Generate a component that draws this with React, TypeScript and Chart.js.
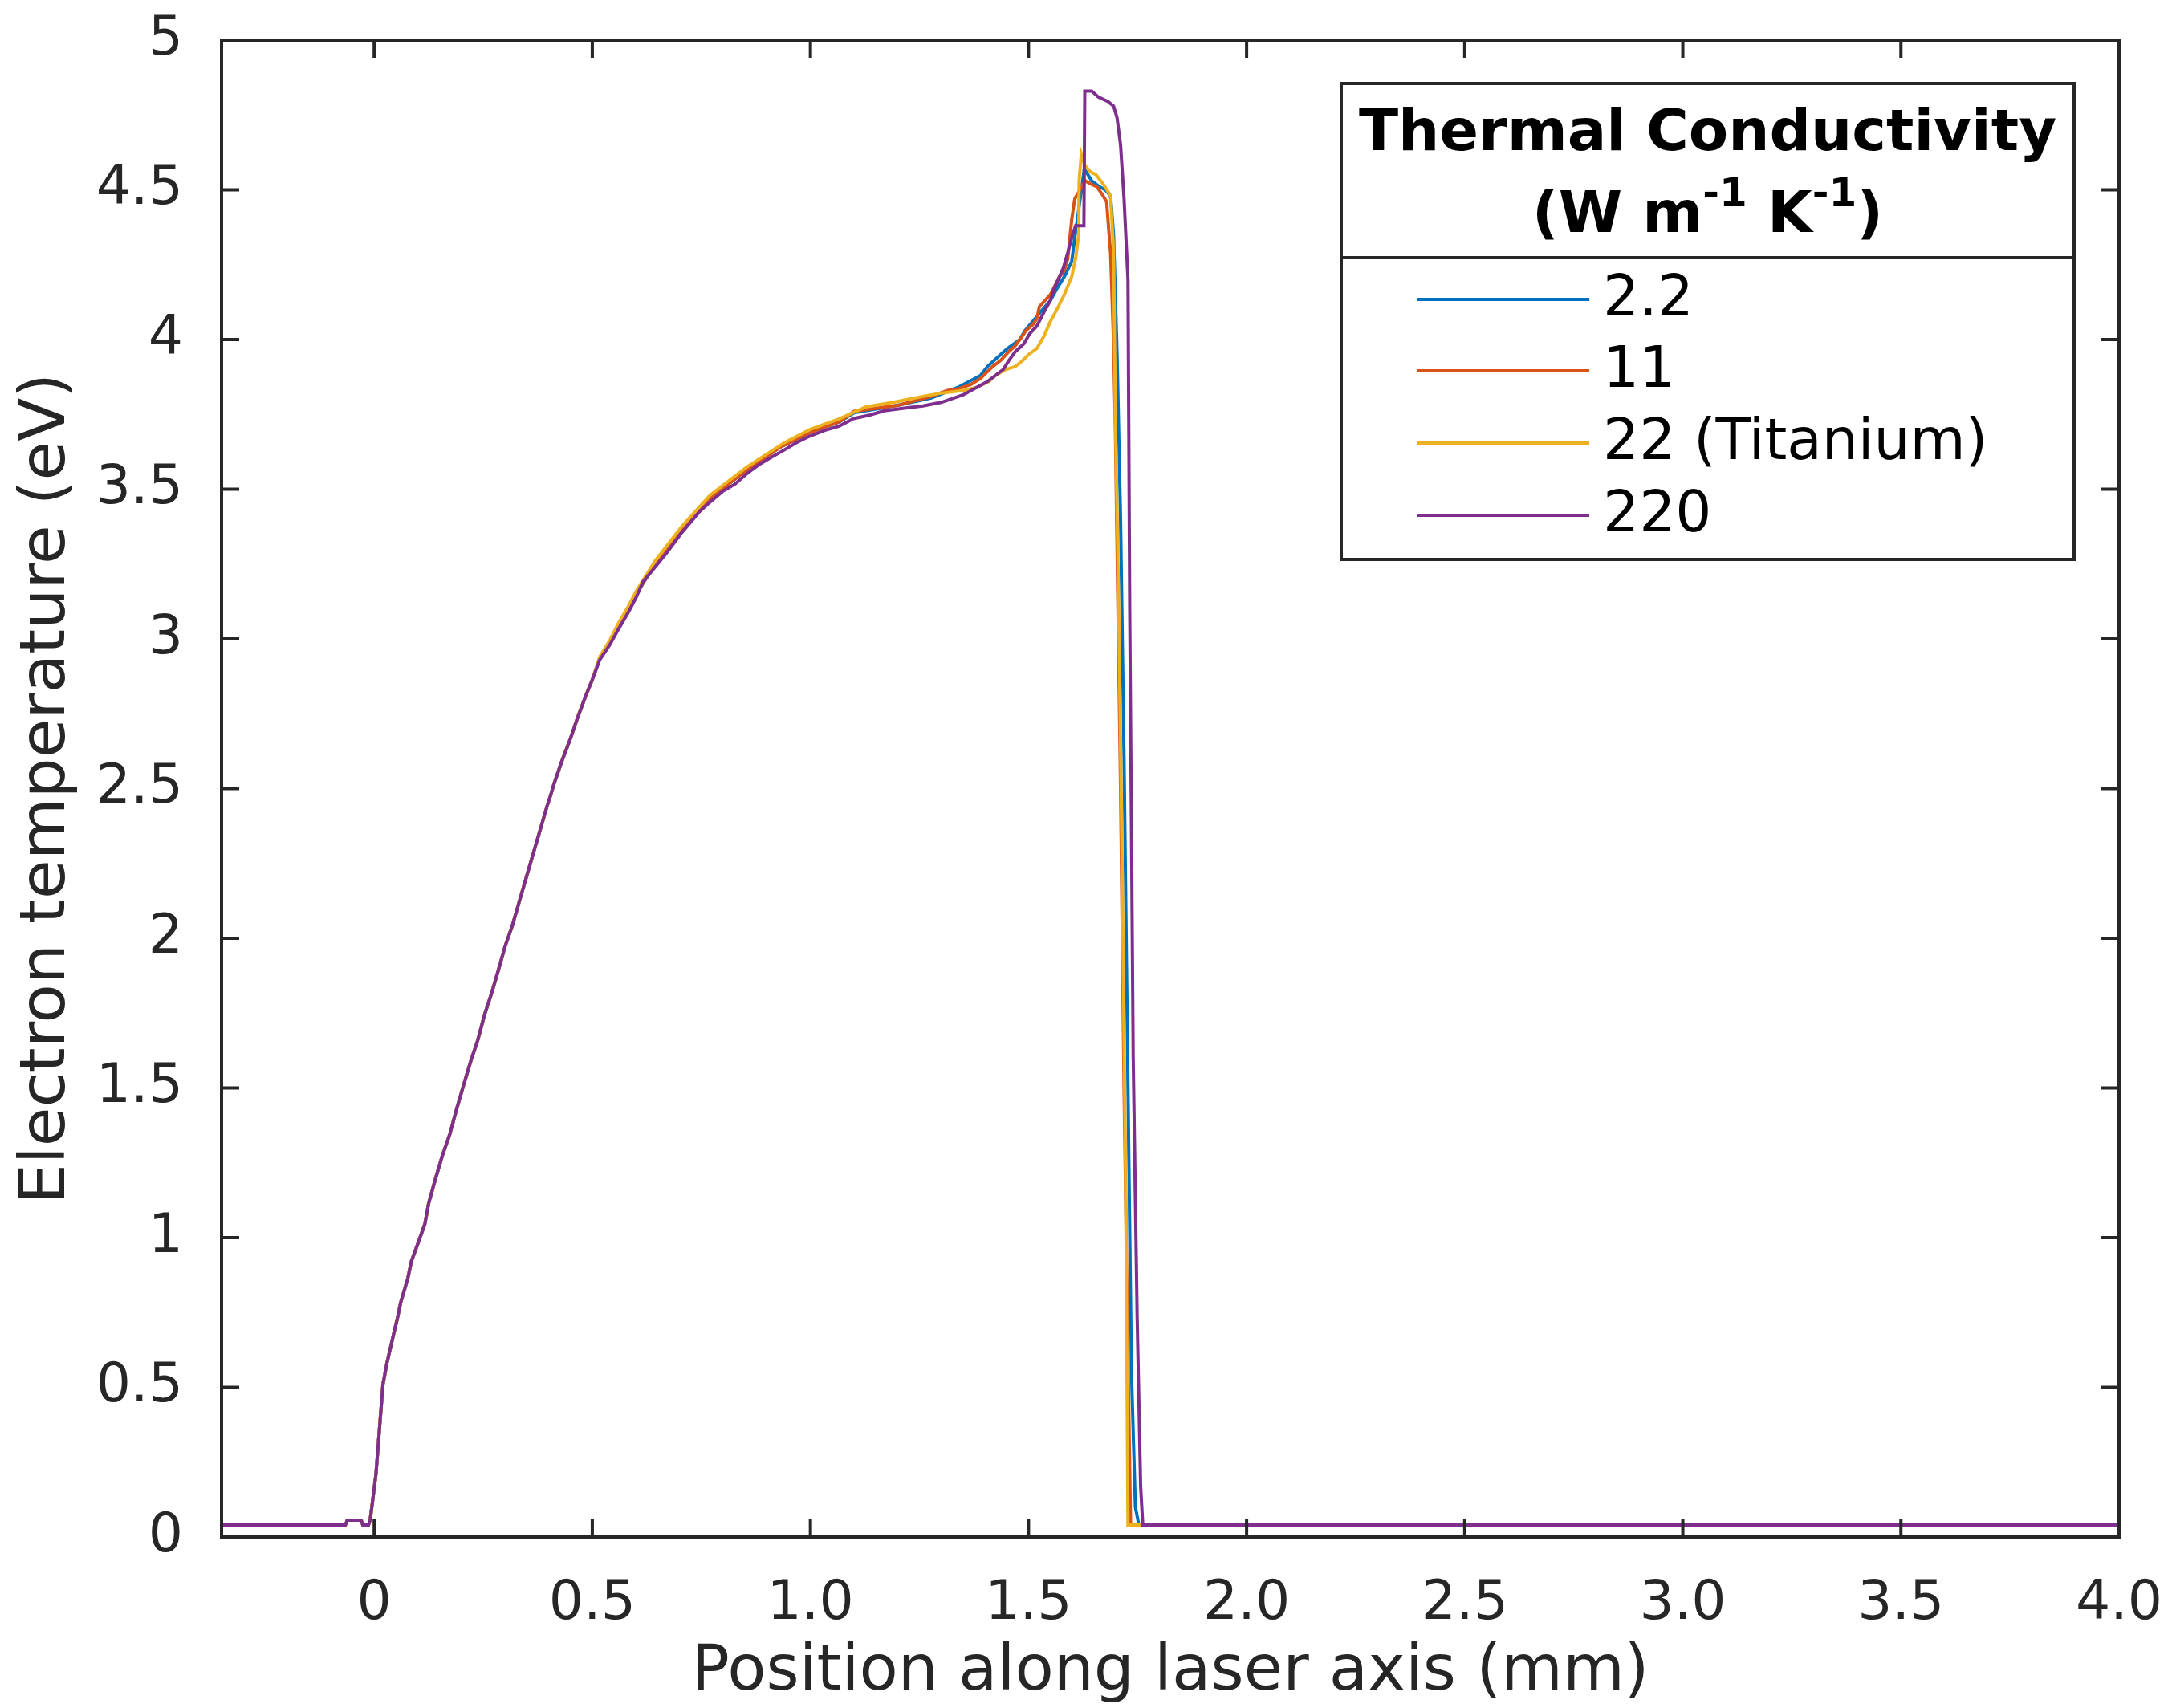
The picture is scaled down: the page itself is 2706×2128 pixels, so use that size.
import { useEffect, useRef } from 'react'
import { Chart, registerables, type Plugin, type ChartConfiguration } from 'chart.js'

Chart.register(...registerables)

const FONT = '"DejaVu Sans", sans-serif'
const INK = '#262626'

/* ------------------------------------------------------------------ */
/*  Data                                        */
/* ------------------------------------------------------------------ */

const xTickValues = [0, 0.5, 1, 1.5, 2, 2.5, 3, 3.5, 4]
const xTickLabels = ['0', '0.5', '1.0', '1.5', '2.0', '2.5', '3.0', '3.5', '4.0']
const yTickValues = [0, 0.5, 1, 1.5, 2, 2.5, 3, 3.5, 4, 4.5, 5]
const yTickLabels = ['0', '0.5', '1', '1.5', '2', '2.5', '3', '3.5', '4', '4.5', '5']

const legendTitle = 'Thermal Conductivity'
const seriesLabels = ['2.2', '11', '22 (Titanium)', '220']
const seriesColors = ['#0072BD', '#D95319', '#EDB120', '#7E2F8E']

// all four runs lie on top of each other up to ~0.5 mm
const sharedRise: [number, number][] = [
  [-0.35, 0.04], [-0.066, 0.04], [-0.062, 0.056], [-0.03, 0.056], [-0.026, 0.04],
  [-0.013, 0.04], [-0.009, 0.06], [-0.002, 0.14], [0.004, 0.21], [0.012, 0.36],
  [0.02, 0.51], [0.029, 0.58], [0.037, 0.63], [0.044, 0.675], [0.053, 0.73],
  [0.061, 0.785], [0.077, 0.864], [0.085, 0.92], [0.1, 0.98], [0.116, 1.045],
  [0.125, 1.116], [0.14, 1.194], [0.156, 1.273], [0.173, 1.344], [0.189, 1.43],
  [0.205, 1.51], [0.221, 1.588], [0.237, 1.658], [0.253, 1.745], [0.269, 1.816],
  [0.285, 1.895], [0.3, 1.973], [0.317, 2.044], [0.332, 2.12], [0.348, 2.2],
  [0.357, 2.245], [0.364, 2.28], [0.372, 2.32], [0.38, 2.36], [0.389, 2.405],
  [0.397, 2.445], [0.405, 2.48], [0.412, 2.515], [0.421, 2.553], [0.429, 2.587],
  [0.437, 2.618], [0.445, 2.648], [0.453, 2.68], [0.461, 2.715], [0.469, 2.748],
  [0.477, 2.779], [0.484, 2.806], [0.492, 2.835], [0.499, 2.86],
]

const tail2p2: [number, number][] = [
  [0.517, 2.935], [0.54, 2.985], [0.559, 3.04], [0.583, 3.1], [0.601, 3.15],
  [0.644, 3.25], [0.705, 3.365], [0.77, 3.47], [0.855, 3.565], [0.93, 3.64],
  [1.0, 3.69], [1.066, 3.725], [1.1, 3.755], [1.2, 3.78], [1.277, 3.805],
  [1.338, 3.84], [1.39, 3.88], [1.406, 3.91], [1.436, 3.95], [1.452, 3.97],
  [1.48, 4.0], [1.492, 4.03], [1.538, 4.11], [1.55, 4.13], [1.565, 4.17],
  [1.582, 4.21], [1.599, 4.26], [1.606, 4.34], [1.628, 4.57], [1.645, 4.53],
  [1.663, 4.51], [1.676, 4.5], [1.688, 4.48], [1.695, 4.35], [1.703, 3.95],
  [1.711, 3.4], [1.719, 2.6], [1.728, 1.5], [1.736, 0.55], [1.745, 0.1],
  [1.753, 0.04], [4.0, 0.04],
]

const tail11: [number, number][] = [
  [0.517, 2.935], [0.54, 2.985], [0.559, 3.04], [0.583, 3.1], [0.601, 3.15],
  [0.644, 3.25], [0.705, 3.365], [0.77, 3.47], [0.855, 3.565], [0.93, 3.64],
  [1.0, 3.69], [1.066, 3.725], [1.1, 3.76], [1.2, 3.78], [1.277, 3.81],
  [1.314, 3.83], [1.338, 3.835], [1.368, 3.85], [1.39, 3.87], [1.418, 3.91],
  [1.436, 3.93], [1.455, 3.96], [1.47, 3.98], [1.485, 4.01], [1.494, 4.03],
  [1.51, 4.05], [1.519, 4.07], [1.525, 4.11], [1.55, 4.15], [1.571, 4.21],
  [1.582, 4.23], [1.59, 4.27], [1.599, 4.4], [1.606, 4.47], [1.63, 4.53],
  [1.642, 4.52], [1.657, 4.51], [1.671, 4.48], [1.679, 4.46], [1.688, 4.29],
  [1.695, 3.99], [1.699, 3.71], [1.703, 3.3], [1.711, 2.5], [1.719, 1.5],
  [1.728, 0.6], [1.734, 0.04], [4.0, 0.04],
]

const tail22: [number, number][] = [
  [0.517, 2.94], [0.54, 2.995], [0.559, 3.05], [0.583, 3.11], [0.601, 3.16],
  [0.644, 3.26], [0.705, 3.375], [0.77, 3.48], [0.855, 3.575], [0.94, 3.655],
  [1.0, 3.7], [1.066, 3.735], [1.127, 3.775], [1.19, 3.79], [1.258, 3.81],
  [1.295, 3.82], [1.35, 3.83], [1.381, 3.84], [1.409, 3.86], [1.424, 3.88],
  [1.448, 3.9], [1.47, 3.91], [1.487, 3.93], [1.5, 3.95], [1.519, 3.97],
  [1.535, 4.01], [1.55, 4.06], [1.565, 4.1], [1.582, 4.15], [1.599, 4.21],
  [1.608, 4.27], [1.615, 4.35], [1.616, 4.53], [1.621, 4.62], [1.63, 4.58],
  [1.642, 4.56], [1.655, 4.55], [1.671, 4.52], [1.688, 4.48], [1.695, 4.3],
  [1.699, 3.75], [1.707, 3.08], [1.715, 2.2], [1.723, 1.14], [1.728, 0.04],
  [4.0, 0.04],
]

const tail220: [number, number][] = [
  [0.517, 2.93], [0.54, 2.98], [0.559, 3.03], [0.583, 3.09], [0.601, 3.14],
  [0.616, 3.19], [0.644, 3.24], [0.672, 3.29], [0.705, 3.355], [0.747, 3.427],
  [0.77, 3.457], [0.799, 3.493], [0.827, 3.517], [0.855, 3.553], [0.883, 3.583],
  [0.911, 3.607], [0.94, 3.631], [0.967, 3.655], [0.995, 3.675], [1.033, 3.697],
  [1.066, 3.711], [1.099, 3.736], [1.137, 3.748], [1.169, 3.762], [1.212, 3.77],
  [1.258, 3.778], [1.3, 3.79], [1.35, 3.815], [1.381, 3.84], [1.406, 3.86],
  [1.424, 3.88], [1.442, 3.9], [1.455, 3.93], [1.47, 3.96], [1.489, 3.985],
  [1.503, 4.02], [1.519, 4.045], [1.535, 4.09], [1.55, 4.13], [1.559, 4.17],
  [1.568, 4.2], [1.58, 4.24], [1.59, 4.29], [1.599, 4.34], [1.608, 4.38],
  [1.627, 4.38], [1.629, 4.83], [1.645, 4.83], [1.66, 4.81], [1.682, 4.795],
  [1.695, 4.78], [1.703, 4.74], [1.711, 4.65], [1.719, 4.47], [1.728, 4.2],
  [1.732, 3.1], [1.74, 1.6], [1.749, 0.74], [1.757, 0.17], [1.762, 0.04],
  [4.0, 0.04],
]

const seriesTails = [tail2p2, tail11, tail22, tail220]

/* ------------------------------------------------------------------ */
/*  Plugins: MATLAB-style box with inward ticks, boxed legend         */
/* ------------------------------------------------------------------ */

const TICK_LEN = 22

const axesFrame: Plugin<'line'> = {
  id: 'axesFrame',
  afterDraw(chart) {
    const { ctx, chartArea: a } = chart
    const xs = chart.scales.x
    const ys = chart.scales.y
    ctx.save()
    ctx.strokeStyle = INK
    ctx.lineWidth = 4
    ctx.beginPath()
    for (const v of xTickValues) {
      const px = xs.getPixelForValue(v)
      ctx.moveTo(px, a.bottom); ctx.lineTo(px, a.bottom - TICK_LEN)
      ctx.moveTo(px, a.top); ctx.lineTo(px, a.top + TICK_LEN)
    }
    for (const v of yTickValues) {
      const py = ys.getPixelForValue(v)
      ctx.moveTo(a.left, py); ctx.lineTo(a.left + TICK_LEN, py)
      ctx.moveTo(a.right, py); ctx.lineTo(a.right - TICK_LEN, py)
    }
    ctx.stroke()
    ctx.strokeRect(a.left, a.top, a.right - a.left, a.bottom - a.top)
    ctx.restore()
  },
}

const boxedLegend: Plugin<'line'> = {
  id: 'boxedLegend',
  afterDraw(chart) {
    const ctx = chart.ctx
    const L = 1671, R = 2584, T = 104, B = 697, divider = 321
    const cx = (L + R) / 2
    ctx.save()
    ctx.fillStyle = '#fff'
    ctx.fillRect(L, T, R - L, B - T)
    ctx.strokeStyle = INK
    ctx.lineWidth = 4
    ctx.strokeRect(L, T, R - L, B - T)
    ctx.beginPath()
    ctx.moveTo(L, divider)
    ctx.lineTo(R, divider)
    ctx.stroke()

    ctx.fillStyle = '#000'
    ctx.textBaseline = 'middle'
    ctx.textAlign = 'center'
    ctx.font = `bold 72px ${FONT}`
    ctx.fillText(legendTitle, cx, 168)

    // unit line with superscripts: (W m^-1 K^-1)
    const parts: [string, boolean][] = [['(W m', false], ['-1', true], [' K', false], ['-1', true], [')', false]]
    const base = `bold 72px ${FONT}`
    const sup = `bold 50px ${FONT}`
    let total = 0
    for (const [t, s] of parts) { ctx.font = s ? sup : base; total += ctx.measureText(t).width }
    let x = cx - total / 2
    ctx.textAlign = 'left'
    for (const [t, s] of parts) {
      ctx.font = s ? sup : base
      ctx.fillText(t, x, s ? 244 : 270)
      x += ctx.measureText(t).width
    }

    ctx.font = `71px ${FONT}`
    const rows = [373, 462, 552, 642]
    chart.data.datasets.forEach((ds, i) => {
      const y = rows[i]
      ctx.strokeStyle = ds.borderColor as string
      ctx.lineWidth = 4
      ctx.beginPath()
      ctx.moveTo(1765, y)
      ctx.lineTo(1980, y)
      ctx.stroke()
      ctx.fillStyle = '#000'
      ctx.fillText(ds.label ?? '', 1997, y + 2)
    })
    ctx.restore()
  },
}

/* ------------------------------------------------------------------ */

function TemperatureChart() {
  const canvasRef = useRef<HTMLCanvasElement>(null)
  const chartRef = useRef<Chart | null>(null)

  useEffect(() => {
    if (!canvasRef.current) return

    const datasets = seriesLabels.map((label, i) => ({
      label,
      data: [...sharedRise, ...seriesTails[i]].map(([x, y]) => ({ x, y })),
      borderColor: seriesColors[i],
      backgroundColor: seriesColors[i],
      borderWidth: 4,
      pointRadius: 0,
      tension: 0,
      fill: false,
      order: seriesLabels.length - i, // last series (220) on top
    }))

    const config: ChartConfiguration<'line'> = {
      type: 'line',
      data: { datasets },
      options: {
        responsive: false,
        maintainAspectRatio: false,
        animation: false,
        devicePixelRatio: 1,
        layout: { padding: { top: 50, right: 66, left: 0, bottom: 0 } },
        plugins: { legend: { display: false }, tooltip: { enabled: false } },
        scales: {
          x: {
            type: 'linear',
            min: -0.35,
            max: 4,
            grid: { display: false },
            border: { display: false },
            afterBuildTicks: (scale) => { scale.ticks = xTickValues.map((value) => ({ value })) },
            afterFit: (scale) => {
              scale.height = 213
              scale.paddingLeft = 0
              scale.paddingRight = 0
            },
            ticks: {
              autoSkip: false,
              maxRotation: 0,
              padding: 36,
              color: INK,
              font: { family: FONT, size: 68 },
              callback: (_v, i) => xTickLabels[i],
            },
            title: {
              display: true,
              text: 'Position along laser axis (mm)',
              color: INK,
              font: { family: FONT, size: 79, lineHeight: 1 },
              padding: { top: 0, bottom: 4 },
            },
          },
          y: {
            type: 'linear',
            min: 0,
            max: 5,
            grid: { display: false },
            border: { display: false },
            afterBuildTicks: (scale) => { scale.ticks = yTickValues.map((value) => ({ value })) },
            afterFit: (scale) => {
              scale.width = 276
              scale.paddingTop = 0
              scale.paddingBottom = 0
            },
            ticks: {
              autoSkip: false,
              padding: 40,
              color: INK,
              font: { family: FONT, size: 68 },
              callback: (_v, i) => yTickLabels[i],
            },
            title: {
              display: true,
              text: 'Electron temperature (eV)',
              color: INK,
              font: { family: FONT, size: 79, lineHeight: 1 },
              padding: { top: 20, bottom: 0 },
            },
          },
        },
      },
      plugins: [axesFrame, boxedLegend],
    }

    chartRef.current = new Chart(canvasRef.current, config)
    return () => { chartRef.current?.destroy(); chartRef.current = null }
  }, [])

  return <canvas ref={canvasRef} width={2706} height={2128} style={{ display: 'block' }} />
}

export default function App() {
  return (
    <div style={{ position: 'absolute', left: 0, top: 0, width: 2706, height: 2128, background: '#fff' }}>
      <TemperatureChart />
    </div>
  )
}
